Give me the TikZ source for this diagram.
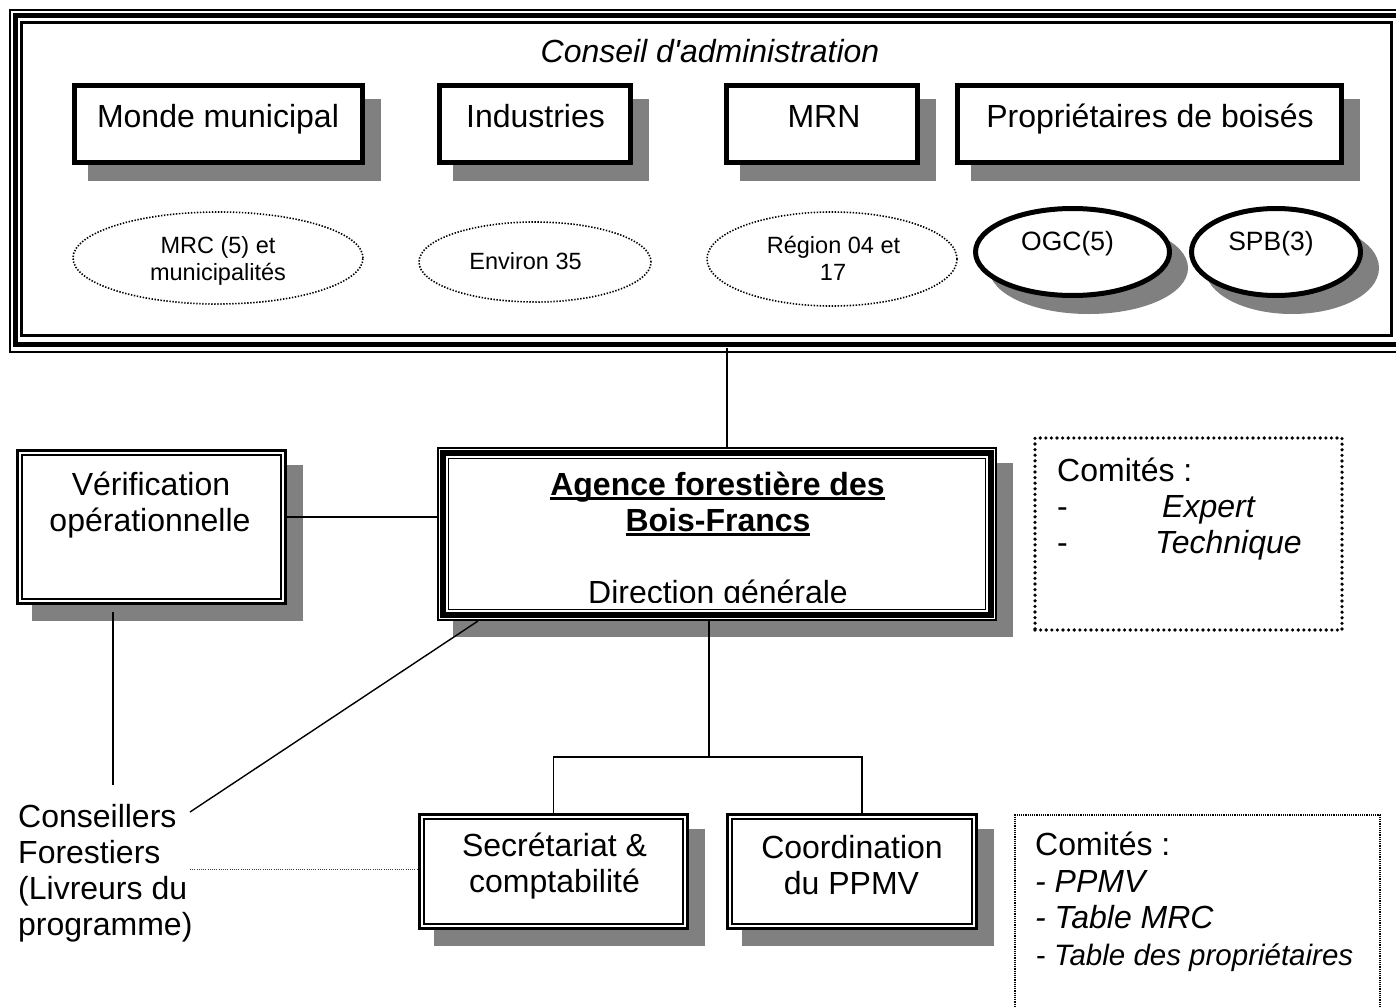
\documentclass[tikz,border=0pt]{standalone}
\usepackage{fontspec}
\setmainfont{Liberation Sans}[Ligatures=TeXOff]
\usetikzlibrary{shapes.geometric,shadows}
\definecolor{shd}{RGB}{128,128,128}
\newcommand\fbig{\fontsize{32}{36}\selectfont}
\newcommand\fsml{\fontsize{23.5}{27}\selectfont}
\newcommand\fmid{\fontsize{26.5}{30}\selectfont}
\newcommand\fprop{\fontsize{29.5}{33}\selectfont}
\newcommand\myul[1]{\setbox0\hbox{#1}\rlap{\rule[-4.5pt]{\wd0}{2.2pt}}\box0}
\begin{document}
\begin{tikzpicture}[x=1pt,y=-1pt,
 txt/.style={inner sep=0pt, font=\fbig},
 tsm/.style={inner sep=0pt, font=\fsml},
 shad/.style={drop shadow={shadow xshift=16pt, shadow yshift=-16pt, opacity=1, fill=shd, draw=shd}},
 topbox/.style={draw, line width=5pt, fill=white, minimum height=77pt, inner sep=0pt, shad},
 dotell/.style={ellipse, draw, line width=1.6pt, dash pattern=on 1.4pt off 1.6pt, inner sep=0pt},
 boldell/.style={ellipse, draw, line width=5pt, fill=white, inner sep=0pt, minimum height=87pt, shad},
 dblbox/.style={draw, line width=3pt, fill=white, inner sep=0pt, shad},
 link/.style={line width=1.4pt},
 rounddots/.style={draw, line width=3.6pt, dash pattern=on 0pt off 5.6pt, line cap=round, inner sep=0pt},
 finedots/.style={draw, line width=1.2pt, dash pattern=on 1.2pt off 1pt, inner sep=0pt},
]
\useasboundingbox (0,0) rectangle (1396,1006);
\fill[white] (0,0) rectangle (1396,1006);
\clip (0,0) rectangle (1396,1006);

% ---- conseil frame
\draw[line width=2pt] (10,10) rectangle (1430,352);
\draw[line width=5pt] (15.5,16) rectangle (1430,344);
\node[draw, line width=3pt, minimum width=1370pt, minimum height=312.5pt, inner sep=0pt] (cadre) at (706.5,178.75) {};
\node[txt, font=\fbig\itshape, anchor=base] (ca) at (710,63) {Conseil d'administration};

% ---- top boxes
\node[topbox, minimum width=288pt] (monde) at (218.5,124) {};
\node[txt, anchor=base] (mondet) at (218,128) {Monde municipal};
\node[topbox, minimum width=191pt] (ind) at (535,124) {};
\node[txt, anchor=base] (indt) at (535.5,128) {Industries};
\node[topbox, minimum width=191pt] (mrn) at (822,124) {};
\node[txt, anchor=base] (mrnt) at (824,128) {MRN};
\node[topbox, minimum width=384pt] (prop) at (1149.5,124) {};
\node[txt, anchor=base] (propt) at (1150,128) {Propriétaires de boisés};

% ---- ellipses
\node[dotell, minimum width=290pt, minimum height=92pt] (mrc) at (218,258) {};
\node[tsm, anchor=base] (mrct1) at (218,253) {MRC (5) et};
\node[tsm, anchor=base] (mrct2) at (218,280) {municipalités};
\node[dotell, minimum width=232pt, minimum height=80pt] (env) at (535,262) {};
\node[tsm, anchor=base] (envt) at (525.5,269.5) {Environ 35};
\node[dotell, minimum width=250pt, minimum height=94pt] (reg) at (832,259) {};
\node[tsm, anchor=base] (regt1) at (833.5,253.5) {Région 04 et};
\node[tsm, anchor=base] (regt2) at (833,280) {17};
\node[boldell, minimum width=194pt] (ogc) at (1072.5,252) {};
\node[inner sep=0pt, font=\fmid, anchor=base] (ogct) at (1067.5,250) {OGC(5)};
\node[boldell, minimum width=169pt] (spb) at (1276,252) {};
\node[inner sep=0pt, font=\fmid, anchor=base] (spbt) at (1271,250) {SPB(3)};

% ---- Vérification
\node[dblbox, minimum width=268pt, minimum height=153pt] (ver) at (151.5,527) {};
\draw[line width=1.5pt] ([xshift=6pt,yshift=-6pt]ver.north west) rectangle ([xshift=-6pt,yshift=6pt]ver.south east);
\node[txt, anchor=base] (vert1) at (151,495) {Vérification};
\node[txt, anchor=base] (vert2) at (150,531) {opérationnelle};

% ---- Agence
\node[draw, line width=2pt, fill=white, inner sep=0pt, minimum width=558pt, minimum height=172pt, shad] (agence) at (717,534) {};
\node[txt, font=\fbig\bfseries, anchor=base] (ag1) at (717.5,495) {\myul{Agence forestière des}};
\node[txt, font=\fbig\bfseries, anchor=base] (ag2) at (718,531) {\myul{Bois-Francs}};
\node[txt, anchor=base] (ag3) at (718,603) {Direction générale};
\fill[white] ([xshift=12pt,yshift=12pt]agence.south west) rectangle ([xshift=-12pt,yshift=18pt]agence.south east);
\draw[line width=6pt] ([xshift=6pt,yshift=-6pt]agence.north west) rectangle ([xshift=-6pt,yshift=6pt]agence.south east);
\draw[line width=1.5pt] ([xshift=11.5pt,yshift=-11.5pt]agence.north west) rectangle ([xshift=-11.5pt,yshift=11.5pt]agence.south east);

% ---- Comités 1
\node[rounddots, minimum width=307pt, minimum height=192pt] (com1) at (1188.5,534) {};
\node[txt, anchor=base west] (com1a) at (1057,481) {Comités :};
\node[txt, anchor=base west] (com1b) at (1057,517) {-};
\node[txt, font=\fbig\itshape, anchor=base west] (com1c) at (1162,517) {Expert};
\node[txt, anchor=base west] (com1d) at (1057,553) {-};
\node[txt, font=\fbig\itshape, anchor=base west] (com1e) at (1155,553) {Technique};

% ---- Secrétariat / Coordination
\node[dblbox, minimum width=268pt, minimum height=114pt] (sec) at (553.5,871.5) {};
\draw[line width=1.5pt] ([xshift=6pt,yshift=-6pt]sec.north west) rectangle ([xshift=-6pt,yshift=6pt]sec.south east);
\node[txt, anchor=base] (sect1) at (554.5,856) {Secrétariat \&};
\node[txt, anchor=base] (sect2) at (554.5,892) {comptabilité};
\node[dblbox, minimum width=249pt, minimum height=114pt] (coord) at (852,871.5) {};
\draw[line width=1.5pt] ([xshift=6pt,yshift=-6pt]coord.north west) rectangle ([xshift=-6pt,yshift=6pt]coord.south east);
\node[txt, anchor=base] (coordt1) at (852,858) {Coordination};
\node[txt, anchor=base] (coordt2) at (851.5,894) {du PPMV};

% ---- Comités 2
\node[finedots, minimum width=365pt, minimum height=210pt] (com2) at (1197.5,920) {};
\node[txt, anchor=base west] (com2a) at (1035,855) {Comités :};
\node[txt, font=\fbig\itshape, anchor=base west] (com2b) at (1035,892) {- PPMV};
\node[txt, font=\fbig\itshape, anchor=base west] (com2c) at (1035,928) {- Table MRC};
\node[txt, font=\fprop, anchor=base west] (com2d) at (1036,965) {- \textit{Table des propriétaires}};

% ---- Conseillers
\node[txt, anchor=base west] (cons1) at (18,827) {Conseillers};
\node[txt, anchor=base west] (cons2) at (18,863) {Forestiers};
\node[txt, anchor=base west] (cons3) at (18,899) {(Livreurs du};
\node[txt, anchor=base west] (cons4) at (18,935) {programme)};
\coordinate (vbot) at (113,785);
\coordinate (diag) at (190,812);
\coordinate (dotst) at (190,869);
\coordinate (jn) at (709,757);

% ---- connectors
\draw[link] ([xshift=10pt]agence.north) -- ([xshift=10pt,yshift=-11pt]agence.north |- cadre.south);
\draw[link] ([yshift=10pt]ver.east) -- ([yshift=10pt]ver.east -| agence.west);
\draw[link] ([xshift=-38.5pt,yshift=-7pt]ver.south) -- (vbot);
\draw[link] (diag) -- ([xshift=41pt]agence.south west);
\draw[line width=1pt, dash pattern=on 1pt off 1.2pt, black!75] (dotst) -- (dotst -| sec.west);
\draw[link] ([xshift=-8pt]agence.south) -- (jn);
\draw[link] (sec.north) |- (jn);
\draw[link] ([xshift=10pt]coord.north) |- (jn);
\end{tikzpicture}
\end{document}
